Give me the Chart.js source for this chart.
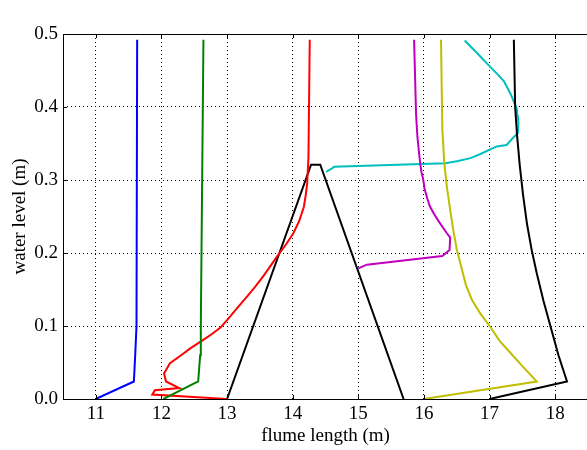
<!DOCTYPE html>
<html>
<head>
<meta charset="utf-8">
<script src="https://cdn.jsdelivr.net/npm/chart.js@4"></script>
<style>
  html, body { margin: 0; padding: 0; background: #fff; overflow: hidden; }
  #wrap { width: 600px; height: 450px; }
</style>
</head>
<body>
<div id="wrap"><canvas id="flume" width="600" height="450"></canvas></div>
<script>
// --- data (x: flume length m, y: water level m) ---
const xTicks = [11, 12, 13, 14, 15, 16, 17, 18];
const yTicks = [0.0, 0.1, 0.2, 0.3, 0.4, 0.5];

const blueX = [11.0, 11.58, 11.60, 11.62, 11.63];
const blueY = [0.0, 0.024, 0.06, 0.10, 0.492];

const greenX = [12.03, 12.56, 12.59, 12.60, 12.64];
const greenY = [0.0, 0.024, 0.06, 0.10, 0.492];

const redX = [13.0, 11.86, 11.90, 12.27, 12.07, 12.04, 12.13, 12.30, 12.45, 12.62, 12.77, 12.90, 13.0, 13.15, 13.30, 13.43, 13.55, 13.66, 13.76, 13.90, 14.01, 14.10, 14.17, 14.20, 14.22, 14.24, 14.26];
const redY = [0.0, 0.006, 0.012, 0.015, 0.024, 0.035, 0.049, 0.060, 0.070, 0.080, 0.089, 0.098, 0.108, 0.124, 0.140, 0.154, 0.168, 0.182, 0.195, 0.212, 0.227, 0.244, 0.263, 0.280, 0.295, 0.330, 0.492];

const hillX = [13.0, 14.28, 14.42, 15.69];
const hillY = [0.0, 0.321, 0.321, 0.0];

const magentaX = [15.0, 15.13, 16.28, 16.39, 16.40, 16.35, 16.22, 16.15, 16.09, 16.05, 16.01, 15.99, 15.96, 15.94, 15.92, 15.90, 15.88, 15.85];
const magentaY = [0.179, 0.184, 0.196, 0.204, 0.221, 0.227, 0.244, 0.254, 0.264, 0.275, 0.288, 0.300, 0.312, 0.325, 0.342, 0.360, 0.390, 0.492];

const yellowX = [16.0, 17.72, 17.50, 17.32, 17.15, 17.01, 16.86, 16.73, 16.64, 16.58, 16.50, 16.44, 16.40, 16.35, 16.31, 16.28, 16.26];
const yellowY = [0.0, 0.024, 0.045, 0.063, 0.080, 0.099, 0.117, 0.136, 0.156, 0.177, 0.205, 0.235, 0.259, 0.290, 0.323, 0.370, 0.492];

const cyanX = [14.51, 14.60, 14.63, 16.33, 16.52, 16.71, 16.87, 17.01, 17.11, 17.26, 17.37, 17.43, 17.44, 17.43, 17.42, 17.38, 17.34, 17.28, 17.22, 17.12, 17.01, 16.82, 16.62];
const cyanY = [0.311, 0.316, 0.318, 0.323, 0.326, 0.330, 0.336, 0.342, 0.346, 0.348, 0.359, 0.364, 0.378, 0.388, 0.396, 0.405, 0.414, 0.425, 0.435, 0.445, 0.455, 0.473, 0.491];

const blackX = [17.0, 18.18, 18.05, 17.93, 17.82, 17.72, 17.64, 17.57, 17.51, 17.46, 17.42, 17.39, 17.37];
const blackY = [0.0, 0.024, 0.060, 0.099, 0.135, 0.172, 0.205, 0.240, 0.280, 0.320, 0.360, 0.400, 0.492];

const FONT = "'Liberation Serif', 'Times New Roman', serif";

function pts(xs, ys) {
    return xs.map((x, i) => ({ x: x, y: ys[i] }));
}

function line(xs, ys, color) {
    return {
        data: pts(xs, ys),
        borderColor: color,
        backgroundColor: color,
        borderWidth: 2,
        pointRadius: 0,
        showLine: true,
        tension: 0,
        fill: false
    };
}

// frame + inward ticks like the original
const framePlugin = {
    id: 'frame',
    afterDraw(chart) {
        const { ctx, chartArea: { left, right, top, bottom }, scales: { x, y } } = chart;
        ctx.save();
        ctx.strokeStyle = '#000';
        ctx.lineWidth = 1;
        ctx.strokeRect(left + 0.5, top + 0.5, right - left, bottom - top);
        ctx.beginPath();
        xTicks.forEach(v => {
            const px = Math.round(x.getPixelForValue(v)) + 0.5;
            ctx.moveTo(px, bottom); ctx.lineTo(px, bottom - 4);
            ctx.moveTo(px, top); ctx.lineTo(px, top + 4);
        });
        yTicks.forEach(v => {
            const py = Math.round(y.getPixelForValue(v)) + 0.5;
            ctx.moveTo(left, py); ctx.lineTo(left + 4, py);
        });
        ctx.stroke();
        ctx.restore();
    }
};

new Chart(document.getElementById('flume'), {
    type: 'scatter',
    data: {
        datasets: [
            line(blueX, blueY, '#0000ff'),
            line(greenX, greenY, '#008000'),
            line(redX, redY, '#ff0000'),
            line(hillX, hillY, '#000000'),
            line(magentaX, magentaY, '#bf00bf'),
            line(yellowX, yellowY, '#bfbf00'),
            line(blackX, blackY, '#000000'),
            line(cyanX, cyanY, '#00bfbf')
        ]
    },
    options: {
        responsive: false,
        animation: false,
        layout: { padding: { top: 34, right: 12, left: 0, bottom: 0 } },
        plugins: { legend: { display: false }, tooltip: { enabled: false } },
        scales: {
            x: {
                type: 'linear',
                min: 10.5,
                max: 18.5,
                afterBuildTicks: (axis) => { axis.ticks = xTicks.map(v => ({ value: v })); },
                afterFit: (axis) => { axis.height = 51; },
                ticks: { color: '#000', font: { family: FONT, size: 19 }, padding: 4, maxRotation: 0 },
                grid: { color: '#000', lineWidth: 1, drawTicks: false },
                border: { display: false, dash: [1, 3] },
                title: { display: true, text: 'flume length (m)', color: '#000', font: { family: FONT, size: 19 }, padding: { top: 0, bottom: 3 } }
            },
            y: {
                type: 'linear',
                min: 0,
                max: 0.5,
                afterBuildTicks: (axis) => { axis.ticks = yTicks.map(v => ({ value: v })); },
                afterFit: (axis) => { axis.width = 63; },
                ticks: { color: '#000', font: { family: FONT, size: 19 }, padding: 5, callback: v => v.toFixed(1) },
                grid: { color: '#000', lineWidth: 1, drawTicks: false },
                border: { display: false, dash: [1, 3] },
                title: { display: true, text: 'water level (m)', color: '#000', font: { family: FONT, size: 19 }, padding: { top: 9, bottom: 0 } }
            }
        }
    },
    plugins: [framePlugin]
});
</script>
</body>
</html>
